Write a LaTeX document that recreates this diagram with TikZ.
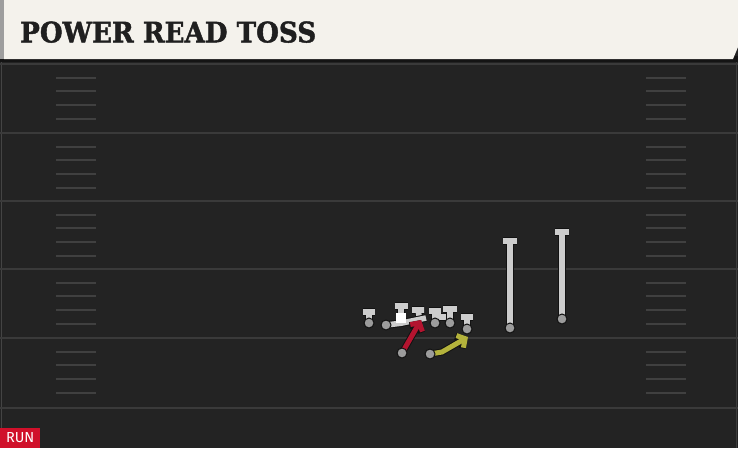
\documentclass[tikz,border=0pt]{standalone}
\usepackage{fontspec}
\newfontfamily\titlefont{DejaVu Serif}[BoldFeatures={FakeBold=1.6}]
\newfontfamily\runfont{Fira Sans}
\usetikzlibrary{arrows.meta}
\pgfdeclarelayer{bg}
\pgfdeclarelayer{routes}
\pgfdeclarelayer{arrowlayer}
\pgfsetlayers{bg,routes,arrowlayer,main}
\definecolor{field}{HTML}{232323}
\definecolor{cream}{HTML}{F4F2EC}
\definecolor{yard}{HTML}{3A3A3A}
\definecolor{hashc}{HTML}{404040}
\definecolor{routegray}{HTML}{CDCDCD}
\definecolor{outl}{HTML}{121212}
\definecolor{pfill}{HTML}{9C9C9C}
\definecolor{redroute}{HTML}{B3142F}
\definecolor{yelroute}{HTML}{B4B33C}
\definecolor{runred}{HTML}{D0102A}
\tikzset{
  rt/.style={draw=routegray,line width=5.6pt,preaction={draw=outl,line width=7.6pt}},
  player/.style={circle,fill=pfill,draw=outl,line width=1pt,minimum size=10pt,inner sep=0pt},
  ctr/.style={rectangle,fill=white,minimum size=10pt,inner sep=0pt},
  yardline/.style={draw=yard,line width=2.2pt},
  hashline/.style={draw=hashc,line width=2pt},
  redarrow/.style={draw=redroute,line width=5pt,-{Straight Barb[length=6pt,width=14pt]},preaction={draw=outl,line width=7pt,-{Straight Barb[length=6pt,width=14pt]}}},
  yelarrow/.style={draw=yelroute,line width=5pt,line join=round,-{Straight Barb[length=6pt,width=14pt]},preaction={draw=outl,line width=7pt,line join=round,-{Straight Barb[length=6pt,width=14pt]}}},
}
\begin{document}
\begin{tikzpicture}[x=1pt,y=-1pt]
\useasboundingbox (0,0) rectangle (738,448);
\begin{pgfonlayer}{bg}
% field
\fill[field] (0,0) rectangle (738,448);
\draw[draw=field!85!white,line width=1.5pt] (1.5,60) -- (1.5,448);
\draw[draw=field!88!white,line width=1.5pt] (736.5,60) -- (736.5,448);
% yard lines
\foreach \yy in {64,133,201,269,338,408} {
  \draw[yardline] (0,\yy) -- (738,\yy);
}
% hash marks
\foreach \yy in {64,133,201,269,338} {
  \foreach \k in {1,2,3,4} {
    \draw[hashline] (56,\yy+13.7*\k) -- (96,\yy+13.7*\k);
    \draw[hashline] (646,\yy+13.7*\k) -- (686,\yy+13.7*\k);
  }
}
% title bar
\fill[black!92] (0,56) rectangle (738,62);
\fill[cream] (4,0) -- (738,0) -- (738,47) -- (733,59) -- (4,59) -- cycle;
\fill[black!38] (0,0) rectangle (4,59);
\end{pgfonlayer}
\node[anchor=south west,inner sep=0pt,text=black!88] (title) at (20,43) {\resizebox{296pt}{21pt}{\titlefont\bfseries POWER READ TOSS}};
% RUN tag
\node[anchor=south west,fill=runred,minimum width=40pt,minimum height=20pt,inner sep=0pt,text=white,font=\runfont\fontsize{14.5}{15}\selectfont] (run) at (0,448) {RUN};
% players
\node[player] (lt) at (369,323) {};
\node[ctr] (c) at (401,318) {};
\node[player] (pg) at (386,325) {};
\node[player] (rg) at (435,323) {};
\node[player] (rt) at (450,323) {};
\node[player] (te) at (467,329) {};
\node[player] (wr1) at (510,328) {};
\node[player] (wr2) at (562,319) {};
\node[player] (qb) at (402,353) {};
\node[player] (rb) at (430,354) {};
% route ends
\coordinate (elt) at (369,312);
\coordinate (ec) at (401,306);
\coordinate (epg) at (426,318);
\coordinate (sg) at (420,321);
\coordinate (eg) at (418,310);
\coordinate (erg) at (435,311);
\coordinate (ert) at (450,309);
\coordinate (hl) at (435,317);
\coordinate (hr) at (450,317);
\coordinate (ete) at (467,317);
\coordinate (ewr1) at (510,241);
\coordinate (ewr2) at (562,232);
\coordinate (eqb) at (421,320);
\coordinate (mrb) at (442,352);
\coordinate (erb) at (468,337);
\begin{pgfonlayer}{routes}
\draw[rt] (lt.center) -- (elt) ([xshift=-6pt]elt) -- ([xshift=6pt]elt);
\draw[rt] (c.center) -- (ec) ([xshift=-6.5pt]ec) -- ([xshift=6.5pt]ec);
\draw[rt] (sg) -- (eg) ([xshift=-6pt]eg) -- ([xshift=6pt]eg);
\draw[rt] (rg.center) -- (erg) ([xshift=-6pt]erg) -- ([xshift=6pt]erg) (hl) -- (hr);
\draw[rt] (rt.center) -- (ert) ([xshift=-7pt]ert) -- ([xshift=7pt]ert);
\draw[rt] (te.center) -- (ete) ([xshift=-6pt]ete) -- ([xshift=6pt]ete);
\draw[rt] (pg.center) -- (c.south) -- (epg);
\draw[rt] (wr1.center) -- (ewr1) ([xshift=-7pt]ewr1) -- ([xshift=7pt]ewr1);
\draw[rt] (wr2.center) -- (ewr2) ([xshift=-7pt]ewr2) -- ([xshift=7pt]ewr2);
\end{pgfonlayer}
\begin{pgfonlayer}{arrowlayer}
\draw[redarrow] (qb.center) -- (eqb);
\draw[yelarrow] (rb.center) -- (mrb) -- (erb);
\end{pgfonlayer}
\end{tikzpicture}
\end{document}
